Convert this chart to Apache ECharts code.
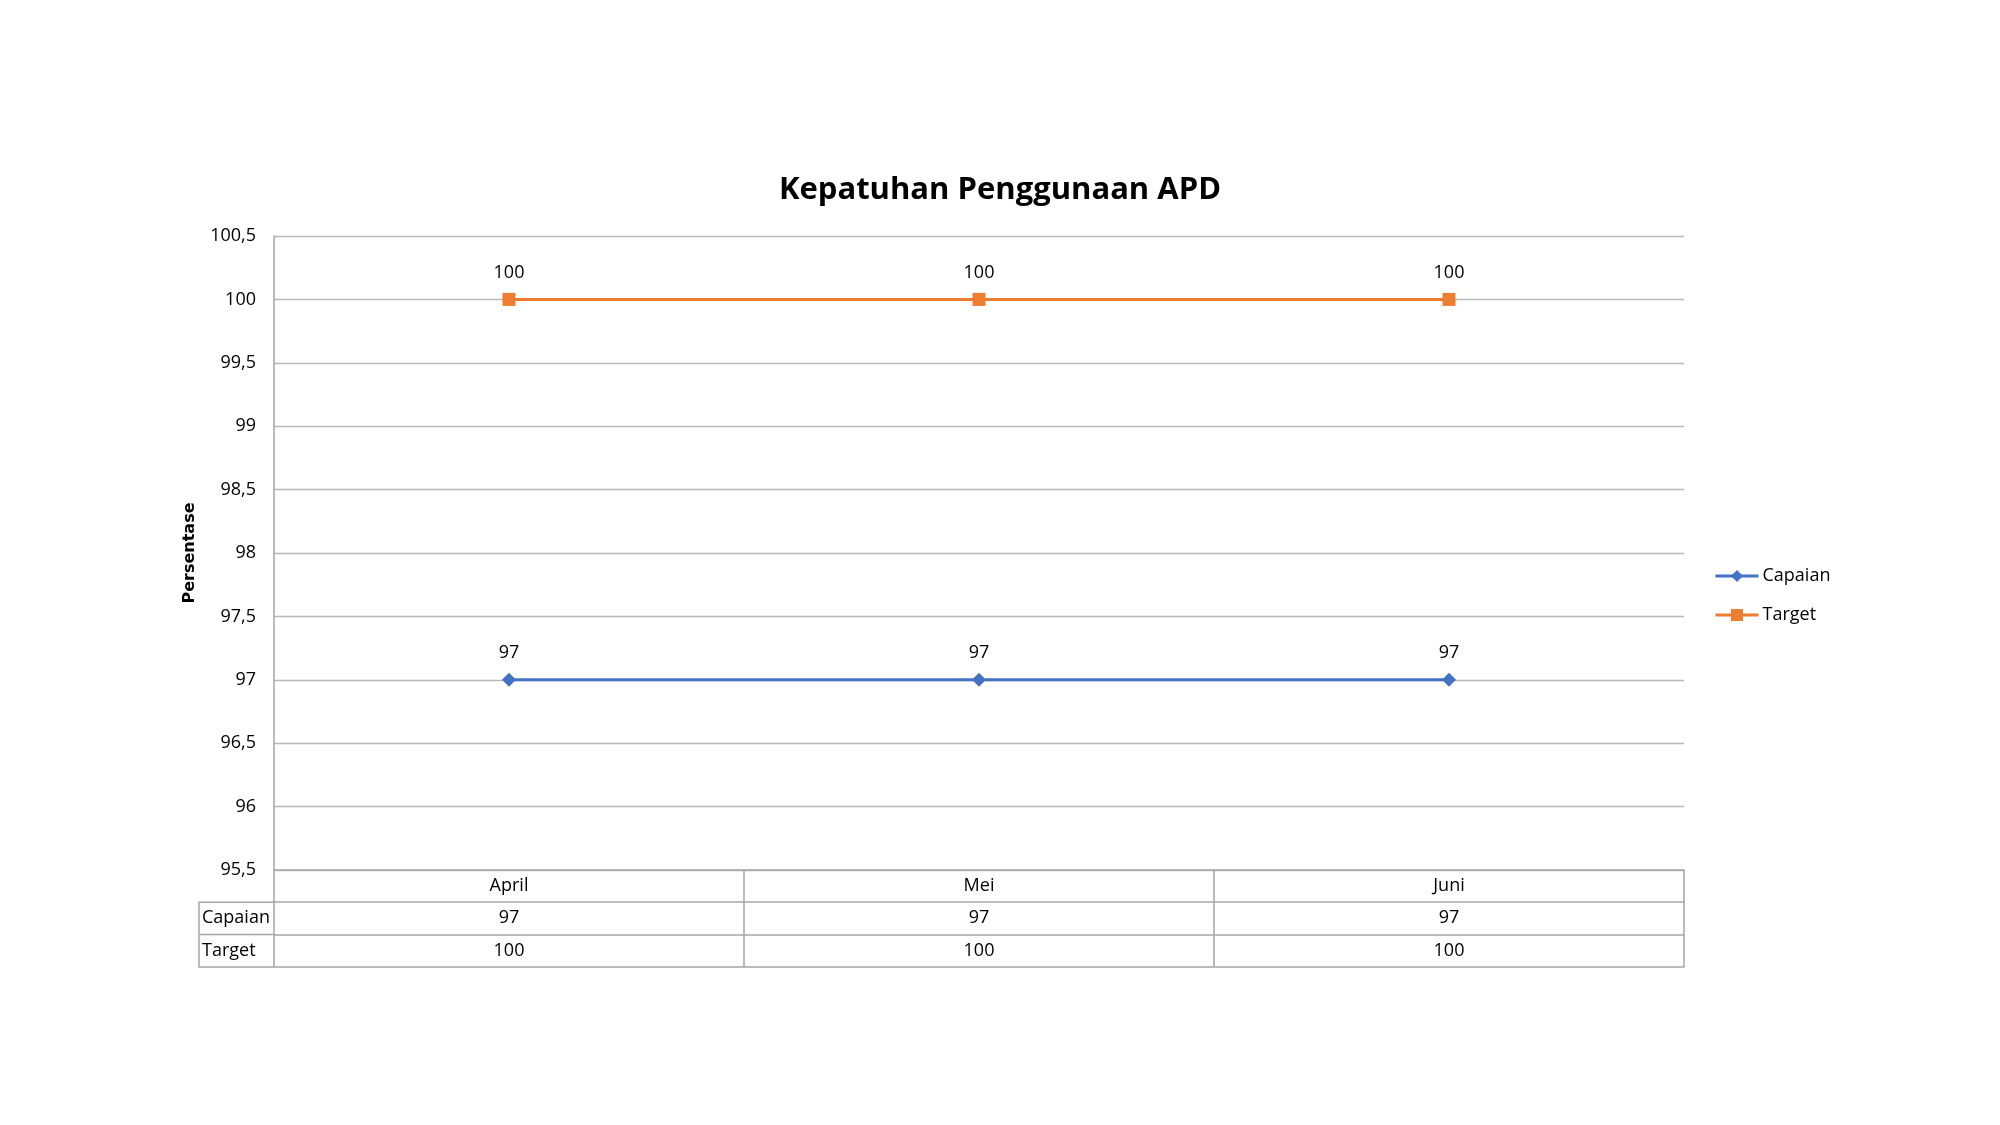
<!DOCTYPE html>
<html>
<head>
<meta charset="utf-8">
<script src="https://cdn.jsdelivr.net/npm/echarts@6/dist/echarts.min.js"></script>
<style>
html,body{margin:0;padding:0;background:#fff;}
#chart{width:2000px;height:1125px;}
</style>
</head>
<body>
<div id="chart"></div>
<script>
const categories = ['April', 'Mei', 'Juni'];
const capaian = [97, 97, 97];
const target = [100, 100, 100];
const seriesNames = ['Capaian', 'Target'];
const yTicks = { min: 95.5, max: 100.5, interval: 0.5 };

const GL = 274, GR = 1684, GT = 236, GB = 870;
const ROW = 32.3;
const TABLE_LEFT = 199;
const FONT = '"Open Sans", "Liberation Sans", sans-serif';
const TXT = '#000000';
const TABLE_LINE = '#a6a6a6';

const chart = echarts.init(document.getElementById('chart'));
const fmt = v => String(v).replace('.', ',');

function tableAxis(off, labels, showTicks) {
  return {
    type: 'category', data: categories, position: 'bottom', offset: off,
    boundaryGap: true,
    axisLine: { show: true, lineStyle: { color: TABLE_LINE, width: 1.5 } },
    axisTick: showTicks ? { show: true, interval: 0, alignWithLabel: false, inside: false, length: Math.round(ROW * 3), lineStyle: { color: TABLE_LINE, width: 1.5 } } : { show: false },
    axisLabel: labels ? { show: true, interval: 0, margin: 7, fontSize: 18, color: TXT, fontFamily: FONT, formatter: (v, i) => String(labels[i]) } : { show: false },
    splitLine: { show: false }
  };
}

chart.setOption({
  animation: false,
  backgroundColor: '#ffffff',
  title: {
    text: 'Kepatuhan Penggunaan APD', left: 'center', top: 170,
    textStyle: { fontFamily: FONT, fontWeight: 'bold', fontSize: 31, color: TXT }
  },
  grid: { left: GL, right: 2000 - GR, top: GT, bottom: 1125 - GB },
  legend: {
    orient: 'vertical', left: 1709, top: 562, itemWidth: 43, itemHeight: 15, itemGap: 21,
    data: seriesNames,
    lineStyle: { width: 3 },
    textStyle: { fontFamily: FONT, fontSize: 18, color: TXT, padding: [0, 0, 0, -1] }
  },
  xAxis: [
    tableAxis(0, categories, true),
    tableAxis(Math.round(ROW), capaian, false),
    tableAxis(Math.round(ROW * 2), target, false),
    tableAxis(Math.round(ROW * 3), null, false)
  ],
  yAxis: {
    type: 'value', min: yTicks.min, max: yTicks.max, interval: yTicks.interval,
    name: 'Persentase', nameLocation: 'middle', nameGap: 76, nameRotate: 90,
    nameTextStyle: { fontFamily: '"DejaVu Sans", sans-serif', fontWeight: 'bold', fontSize: 16, color: TXT },
    axisLine: { show: true, lineStyle: { color: TABLE_LINE, width: 1.5 } },
    axisTick: { show: false },
    axisLabel: { margin: 18, fontSize: 18, color: TXT, fontFamily: FONT, formatter: v => fmt(v) },
    splitLine: { show: true, lineStyle: { color: '#b8b8b8', width: 1.3 } }
  },
  series: [
    {
      name: seriesNames[0], type: 'line', data: capaian,
      symbol: 'diamond', symbolSize: 14,
      lineStyle: { color: '#4472C4', width: 3 },
      itemStyle: { color: '#4472C4' },
      label: { show: true, position: 'top', distance: 11, fontFamily: FONT, fontSize: 18, color: TXT }
    },
    {
      name: seriesNames[1], type: 'line', data: target,
      symbol: 'rect', symbolSize: 13,
      lineStyle: { color: '#ED7D31', width: 3 },
      itemStyle: { color: '#ED7D31' },
      label: { show: true, position: 'top', distance: 11, fontFamily: FONT, fontSize: 18, color: TXT }
    }
  ],
  graphic: [
    { type: 'polyline', shape: { points: [[GL, GB + ROW], [TABLE_LEFT, GB + ROW], [TABLE_LEFT, GB + ROW * 3], [GL, GB + ROW * 3]] }, style: { stroke: TABLE_LINE, lineWidth: 1.5, fill: null } },
    { type: 'line', shape: { x1: TABLE_LEFT, y1: GB + ROW * 2, x2: GL, y2: GB + ROW * 2 }, style: { stroke: TABLE_LINE, lineWidth: 1.5 } },
    { type: 'text', left: TABLE_LEFT + 3, top: GB + ROW + 7, style: { text: seriesNames[0], font: '18px ' + FONT, fill: TXT } },
    { type: 'text', left: TABLE_LEFT + 3, top: GB + ROW * 2 + 7, style: { text: seriesNames[1], font: '18px ' + FONT, fill: TXT } }
  ]
});
</script>
</body>
</html>
